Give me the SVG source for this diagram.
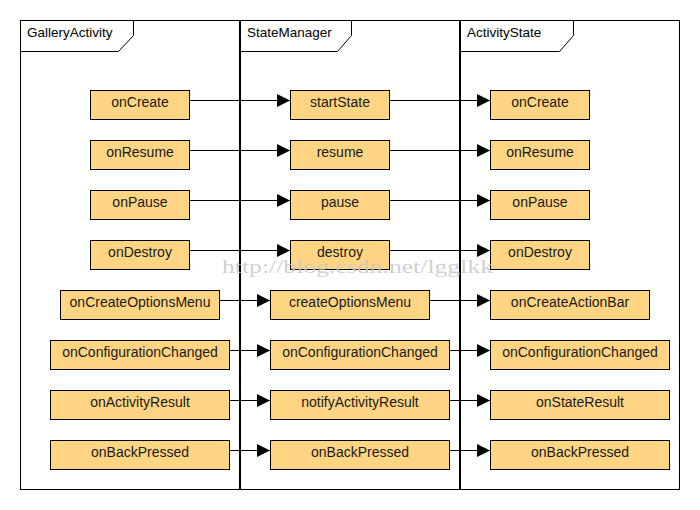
<svg xmlns="http://www.w3.org/2000/svg" width="700" height="510" viewBox="0 0 700 510">
<style>
.bg{fill:#ffffff}
.frame{fill:none;stroke:#000;stroke-width:1}
.div{fill:#000}
.tab{fill:none;stroke:#000;stroke-width:1}
.hdr{font-family:"Liberation Sans",Arial,sans-serif;font-size:13.5px;fill:#000}
.box{fill:#ffd583;stroke:#000;stroke-width:1}
.lbl{font-family:"Liberation Sans",Arial,sans-serif;font-size:14px;fill:#1a1a1a;text-anchor:middle}
.conn{stroke:#000;stroke-width:1;fill:none;marker-end:url(#arr)}
.wm{font-family:"Liberation Serif","Times New Roman",serif;font-size:18px;fill:#c8c8c8;fill-opacity:0.85}
</style>
<defs>
<marker id="arr" markerUnits="userSpaceOnUse" markerWidth="14" markerHeight="14" refX="13" refY="6.5" orient="auto">
<path d="M0,0 L13,6.5 L0,13 z" fill="#000"/>
</marker>
</defs>
<rect class="bg" x="0" y="0" width="700" height="510"/>
<g id="frame">
<rect class="frame" x="20.5" y="20.5" width="659" height="469"/>
<rect class="div" x="239" y="20" width="2" height="470"/>
<rect class="div" x="459" y="20" width="2" height="470"/>
</g>
<g id="lane-gallery">
<path class="tab" d="M20.5,51.5 H118.5 L133.5,35.5 V20.5"/>
<text class="hdr" x="27" y="37">GalleryActivity</text>
</g>
<g id="lane-statemanager">
<path class="tab" d="M241,51.5 H337.5 L351.5,35.5 V20.5"/>
<text class="hdr" x="247" y="37">StateManager</text>
</g>
<g id="lane-activitystate">
<path class="tab" d="M461,51.5 H559.5 L573.5,35.5 V20.5"/>
<text class="hdr" x="467" y="37">ActivityState</text>
</g>
<g id="connectors">
<line class="conn" x1="190" y1="100.5" x2="290" y2="100.5"/>
<line class="conn" x1="390" y1="100.5" x2="490" y2="100.5"/>
<line class="conn" x1="190" y1="150.5" x2="290" y2="150.5"/>
<line class="conn" x1="390" y1="150.5" x2="490" y2="150.5"/>
<line class="conn" x1="190" y1="200.5" x2="290" y2="200.5"/>
<line class="conn" x1="390" y1="200.5" x2="490" y2="200.5"/>
<line class="conn" x1="190" y1="250.5" x2="290" y2="250.5"/>
<line class="conn" x1="390" y1="250.5" x2="490" y2="250.5"/>
<line class="conn" x1="220" y1="300.5" x2="270" y2="300.5"/>
<line class="conn" x1="430" y1="300.5" x2="490" y2="300.5"/>
<line class="conn" x1="230" y1="350.5" x2="270" y2="350.5"/>
<line class="conn" x1="450" y1="350.5" x2="490" y2="350.5"/>
<line class="conn" x1="230" y1="400.5" x2="270" y2="400.5"/>
<line class="conn" x1="450" y1="400.5" x2="490" y2="400.5"/>
<line class="conn" x1="230" y1="450.5" x2="270" y2="450.5"/>
<line class="conn" x1="450" y1="450.5" x2="490" y2="450.5"/>
</g>
<g id="ga-onCreate"><rect class="box" x="90.5" y="90.5" width="99" height="29"/><text class="lbl" x="140" y="107">onCreate</text></g>
<g id="ga-onResume"><rect class="box" x="90.5" y="140.5" width="99" height="29"/><text class="lbl" x="140" y="157">onResume</text></g>
<g id="ga-onPause"><rect class="box" x="90.5" y="190.5" width="99" height="29"/><text class="lbl" x="140" y="207">onPause</text></g>
<g id="ga-onDestroy"><rect class="box" x="90.5" y="240.5" width="99" height="29"/><text class="lbl" x="140" y="257">onDestroy</text></g>
<g id="ga-onCreateOptionsMenu"><rect class="box" x="60.5" y="290.5" width="159" height="29"/><text class="lbl" x="140" y="307">onCreateOptionsMenu</text></g>
<g id="ga-onConfigurationChanged"><rect class="box" x="50.5" y="340.5" width="179" height="29"/><text class="lbl" x="140" y="357">onConfigurationChanged</text></g>
<g id="ga-onActivityResult"><rect class="box" x="50.5" y="390.5" width="179" height="29"/><text class="lbl" x="140" y="407">onActivityResult</text></g>
<g id="ga-onBackPressed"><rect class="box" x="50.5" y="440.5" width="179" height="29"/><text class="lbl" x="140" y="457">onBackPressed</text></g>
<g id="sm-startState"><rect class="box" x="290.5" y="90.5" width="99" height="29"/><text class="lbl" x="340" y="107">startState</text></g>
<g id="sm-resume"><rect class="box" x="290.5" y="140.5" width="99" height="29"/><text class="lbl" x="340" y="157">resume</text></g>
<g id="sm-pause"><rect class="box" x="290.5" y="190.5" width="99" height="29"/><text class="lbl" x="340" y="207">pause</text></g>
<g id="sm-destroy"><rect class="box" x="290.5" y="240.5" width="99" height="29"/><text class="lbl" x="340" y="257">destroy</text></g>
<g id="sm-createOptionsMenu"><rect class="box" x="270.5" y="290.5" width="159" height="29"/><text class="lbl" x="350" y="307">createOptionsMenu</text></g>
<g id="sm-onConfigurationChanged"><rect class="box" x="270.5" y="340.5" width="179" height="29"/><text class="lbl" x="360" y="357">onConfigurationChanged</text></g>
<g id="sm-notifyActivityResult"><rect class="box" x="270.5" y="390.5" width="179" height="29"/><text class="lbl" x="360" y="407">notifyActivityResult</text></g>
<g id="sm-onBackPressed"><rect class="box" x="270.5" y="440.5" width="179" height="29"/><text class="lbl" x="360" y="457">onBackPressed</text></g>
<g id="as-onCreate"><rect class="box" x="490.5" y="90.5" width="99" height="29"/><text class="lbl" x="540" y="107">onCreate</text></g>
<g id="as-onResume"><rect class="box" x="490.5" y="140.5" width="99" height="29"/><text class="lbl" x="540" y="157">onResume</text></g>
<g id="as-onPause"><rect class="box" x="490.5" y="190.5" width="99" height="29"/><text class="lbl" x="540" y="207">onPause</text></g>
<g id="as-onDestroy"><rect class="box" x="490.5" y="240.5" width="99" height="29"/><text class="lbl" x="540" y="257">onDestroy</text></g>
<g id="as-onCreateActionBar"><rect class="box" x="490.5" y="290.5" width="159" height="29"/><text class="lbl" x="570" y="307">onCreateActionBar</text></g>
<g id="as-onConfigurationChanged"><rect class="box" x="490.5" y="340.5" width="179" height="29"/><text class="lbl" x="580" y="357">onConfigurationChanged</text></g>
<g id="as-onStateResult"><rect class="box" x="490.5" y="390.5" width="179" height="29"/><text class="lbl" x="580" y="407">onStateResult</text></g>
<g id="as-onBackPressed"><rect class="box" x="490.5" y="440.5" width="179" height="29"/><text class="lbl" x="580" y="457">onBackPressed</text></g>
<text class="wm" x="222" y="273" textLength="271" lengthAdjust="spacingAndGlyphs">http://blog.csdn.net/lgglkk</text>
</svg>
